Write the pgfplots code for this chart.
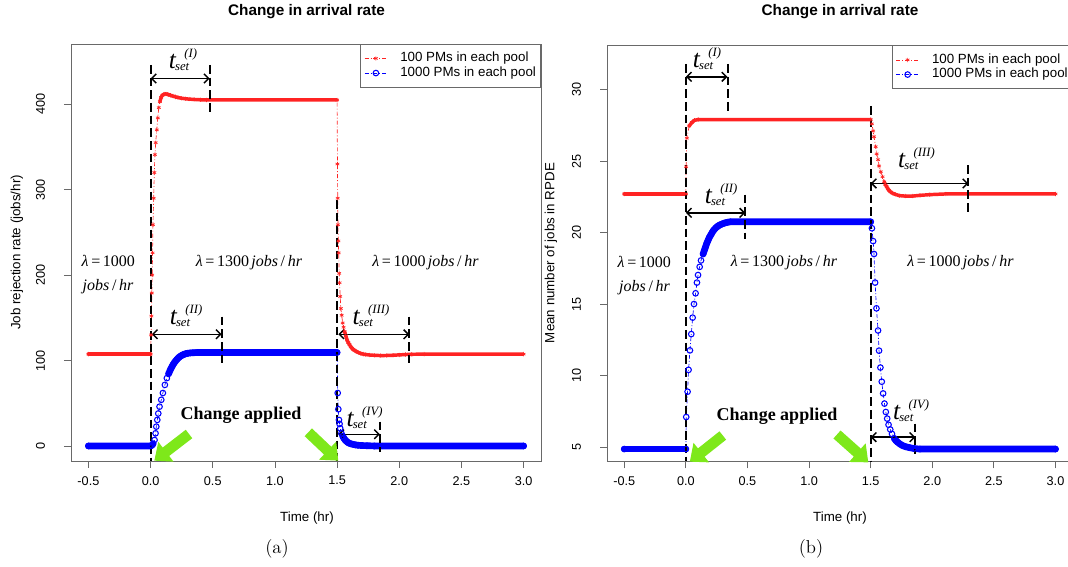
\documentclass[border=0pt]{standalone}
\usepackage{pgfplots}
\pgfplotsset{compat=1.18}
\usepackage{pgfplotstable}
\usepackage{fontspec}
\usetikzlibrary{arrows.meta}

\newfontfamily\arial{Liberation Sans}
\newfontfamily\tnr{Liberation Serif}

\definecolor{rred}{RGB}{255,35,35}
\definecolor{rblue}{RGB}{0,0,255}
\definecolor{lime}{RGB}{126,232,26}
\definecolor{frame}{RGB}{105,105,105}

% (a) job rejection rate, 100 PMs per pool
\pgfplotstableread{
x y
-0.5 107.5
0 107.5
0.004 130
0.007 152
0.010 179
0.013 200
0.016 226
0.019 259
0.025 290
0.030 320
0.035 341
0.041 355
0.050 370
0.058 384
0.066 396
0.075 403
0.085 408
0.095 410.5
0.105 411.5
0.115 412
0.125 412
0.135 411.7
0.145 411.2
0.16 410.5
0.18 409.5
0.20 408.6
0.22 407.9
0.25 407
0.28 406.4
0.31 406
0.35 405.6
0.40 405.2
0.45 405
1.5 405
1.503 330
1.505 290
1.507 259
1.510 240
1.513 226
1.517 202
1.520 191
1.525 175
1.530 161
1.537 153
1.545 144
1.552 139
1.56 134
1.57 129
1.58 124
1.59 121
1.60 118.5
1.61 116
1.62 114.5
1.63 113
1.64 112
1.65 111
1.67 109.5
1.69 108.3
1.71 107.5
1.73 107
1.76 106.5
1.80 106.1
1.85 105.8
1.90 105.9
1.95 106.2
2.00 106.6
2.05 107
2.10 107.3
2.20 107.5
3.00 107.5
}\ared

% (a) 1000 PMs per pool
\pgfplotstableread{
x y
-0.5 0
0 0
0.01 0.8
0.02 2.5
0.032 7
0.04 14.8
0.046 22.6
0.054 30.5
0.062 38
0.072 46
0.086 54
0.099 62
0.115 71.5
0.131 79.4
0.145 84.5
0.16 89.5
0.17 92.3
0.18 95.0
0.19 97.2
0.20 99.2
0.21 101.0
0.22 102.6
0.23 103.9
0.24 105.0
0.25 105.9
0.26 106.7
0.27 107.3
0.28 107.8
0.29 108.2
0.30 108.5
0.32 108.9
0.34 109.1
0.36 109.25
0.38 109.35
0.40 109.4
1.50 109.4
1.505 62
1.510 43
1.515 30.5
1.520 25.8
1.525 20.7
1.535 14.8
1.545 11.5
1.555 9.0
1.565 7.0
1.575 5.5
1.585 4.3
1.595 3.4
1.61 2.6
1.63 1.8
1.65 1.2
1.67 0.8
1.70 0.5
1.74 0.3
1.80 0
3.00 0
}\ablue

% (b) mean number of jobs in RPDE, 100 PMs per pool
\pgfplotstableread{
x y
-0.5 22.7
0 22.7
0.002 24.6
0.008 26.6
0.027 27.45
0.049 27.7
0.07 27.85
0.10 27.9
1.5 27.9
1.51 27.6
1.52 27.1
1.527 26.7
1.541 26.0
1.549 25.5
1.56 25.1
1.568 24.65
1.582 24.25
1.596 23.9
1.61 23.55
1.62 23.35
1.63 23.2
1.64 23.05
1.65 22.95
1.66 22.85
1.678 22.75
1.70 22.67
1.733 22.58
1.78 22.55
1.842 22.55
1.90 22.6
1.979 22.65
2.11 22.7
3.0 22.7
}\bred

% (b) 1000 PMs per pool
\pgfplotstableread{
x y
-0.5 4.86
0 4.86
0.003 7.1
0.014 8.87
0.022 10.4
0.033 11.76
0.044 12.9
0.055 14.05
0.066 15.0
0.079 15.75
0.09 16.5
0.099 17.03
0.112 17.6
0.123 18.05
0.14 18.5
0.15 18.75
0.16 19.0
0.17 19.25
0.18 19.45
0.19 19.65
0.20 19.8
0.21 19.95
0.22 20.1
0.23 20.2
0.24 20.3
0.25 20.38
0.26 20.45
0.27 20.5
0.28 20.55
0.30 20.62
0.32 20.68
0.34 20.72
0.36 20.75
1.5 20.75
1.51 20.3
1.52 19.4
1.527 18.5
1.536 16.5
1.547 14.7
1.560 13.15
1.568 11.74
1.579 10.56
1.590 9.57
1.601 8.75
1.612 8.04
1.623 7.45
1.634 6.99
1.645 6.56
1.659 6.23
1.673 5.92
1.692 5.6
1.705 5.45
1.719 5.34
1.740 5.2
1.760 5.1
1.785 5.02
1.815 4.96
1.85 4.9
1.90 4.86
3.0 4.86
}\bblue

\newcommand\tset[1]{{\tnr\itshape\fontsize{19}{19}\selectfont t\kern-0.6pt\rlap{\raisebox{-1.7pt}{\fontsize{9.5}{9.5}\selectfont set}}\kern7pt\raisebox{8pt}{\fontsize{9.5}{9.5}\selectfont (#1)}}}
\newcommand\rate[1]{{\tnr\fontsize{12}{14}\selectfont\textit{λ}\,=\,#1}}
\newcommand\jh{{\tnr\fontsize{12}{14}\selectfont\textit{jobs}\,/\,\textit{hr}}}

\pgfplotsset{
  rplot/.style={
    scale only axis, anchor=south west,
    xmin=-0.64, xmax=3.14,
    xtick={-0.5,0,0.5,1,1.5,2,2.5,3},
    xticklabels={-0.5,0.0,0.5,1.0,1.5,2.0,2.5,3.0},
    tick pos=left, tick align=outside, major tick length=5.25pt,
    axis line style={frame, line width=0.6pt},
    tick style={frame, line width=0.6pt},
    ticklabel style={font=\arial\fontsize{9.5}{11}\selectfont},
    xticklabel style={anchor=north, inner sep=0pt, yshift=-6pt},
    yticklabel style={xshift=-14pt, rotate=90, anchor=south, inner sep=0pt},
    legend style={at={(1,1)}, anchor=north east, draw=frame, line width=0.6pt,
      fill=white, font=\arial\fontsize{10}{12}\selectfont,
      inner xsep=3pt, inner ysep=5pt, legend cell align=left,
      nodes={inner sep=0.5pt, text height=7.5pt, text depth=2.5pt},
      /tikz/every odd column/.append style={column sep=9pt}},
  },
  band/.style={line width=#1, line cap=round, line join=round, forget plot},
  ddash/.style={dash pattern=on 3pt off 1.5pt on 0.7pt off 1.5pt, line width=0.5pt},
  redpts/.style={rred, ddash, mark=asterisk, mark size=1.6pt, mark options={solid, line width=0.5pt}},
  bluepts/.style={rblue, ddash, mark=o, mark size=2.1pt, mark options={solid, line width=0.8pt}},
}
\tikzset{
  vdash/.style={black, line width=1.5pt, dash pattern=on 6.5pt off 3pt},
  dim/.style={black, line width=1.1pt, {Straight Barb[length=3.5pt,width=7pt]}-{Straight Barb[length=3.5pt,width=7pt]}},
  garrow/.style={lime, line width=8pt, -{Triangle[length=11pt,width=18pt]}},
}

\begin{document}
\begin{tikzpicture}
\useasboundingbox (0,0) rectangle (801pt,425.25pt);

\begin{axis}[rplot, at={(53.25pt,79.5pt)}, width=352.5pt, height=312.75pt,
  ymin=-17.6, ymax=470.5, ytick={0,100,200,300,400}, yticklabels={0,100,200,300,400}]
\addlegendimage{redpts}\addlegendentry{100 PMs in each pool}
\addlegendimage{bluepts}\addlegendentry{1000 PMs in each pool}
\addplot[rred, band=2.6pt, restrict x to domain=-0.5:0] table {\ared};
\addplot[rred, band=2.6pt, restrict x to domain=0.075:1.5] table {\ared};
\addplot[rred, band=2.6pt, restrict x to domain=1.56:3] table {\ared};
\addplot[redpts, forget plot] table {\ared};
\addplot[rblue, band=5pt, restrict x to domain=-0.5:0.02] table {\ablue};
\addplot[rblue, band=5pt, restrict x to domain=0.145:1.5] table {\ablue};
\addplot[rblue, band=5pt, restrict x to domain=1.545:3] table {\ablue};
\addplot[bluepts, forget plot] table {\ablue};
\draw[vdash] (axis cs:0,446) -- (axis cs:0,-17.6);
\draw[vdash] (axis cs:0.475,446) -- (axis cs:0.475,387.4);
\draw[dim] (axis cs:0,430.1) -- (axis cs:0.475,430.1);
\draw[vdash] (axis cs:0.572,151.3) -- (axis cs:0.572,96.8);
\draw[dim] (axis cs:0.01,130.7) -- (axis cs:0.572,130.7);
\draw[vdash] (axis cs:1.5,288) -- (axis cs:1.5,-17.6);
\draw[vdash] (axis cs:2.081,151.3) -- (axis cs:2.081,94.8);
\draw[dim] (axis cs:1.51,130.7) -- (axis cs:2.081,130.7);
\draw[vdash] (axis cs:1.845,28.4) -- (axis cs:1.845,-6.7);
\draw[dim] (axis cs:1.51,13.7) -- (axis cs:1.845,13.7);
\end{axis}

\begin{axis}[rplot, at={(455.25pt,79.125pt)}, width=349.3pt, height=312pt,
  ymin=3.99, ymax=33.08, ytick={5,10,15,20,25,30}, yticklabels={5,10,15,20,25,30}]
\addlegendimage{redpts}\addlegendentry{100 PMs in each pool}
\addlegendimage{bluepts}\addlegendentry{1000 PMs in each pool}
\addplot[rred, band=2.6pt, restrict x to domain=-0.5:0] table {\bred};
\addplot[rred, band=2.6pt, restrict x to domain=0.027:1.5] table {\bred};
\addplot[rred, band=2.6pt, restrict x to domain=1.61:3] table {\bred};
\addplot[redpts, forget plot] table {\bred};
\addplot[rblue, band=5pt, restrict x to domain=-0.5:0] table {\bblue};
\addplot[rblue, band=5pt, restrict x to domain=0.14:1.5] table {\bblue};
\addplot[rblue, band=5pt, restrict x to domain=1.69:3] table {\bblue};
\addplot[bluepts, forget plot] table {\bblue};
\draw[vdash] (axis cs:0,31.79) -- (axis cs:0,3.99);
\draw[vdash] (axis cs:0.338,31.79) -- (axis cs:0.338,28.26);
\draw[dim] (axis cs:0,30.89) -- (axis cs:0.338,30.89);
\draw[vdash] (axis cs:0.483,22.65) -- (axis cs:0.483,19.58);
\draw[dim] (axis cs:0,21.38) -- (axis cs:0.483,21.38);
\draw[vdash] (axis cs:1.5,28.85) -- (axis cs:1.5,3.99);
\draw[vdash] (axis cs:2.293,24.72) -- (axis cs:2.293,21.31);
\draw[dim] (axis cs:1.5,23.43) -- (axis cs:2.293,23.43);
\draw[vdash] (axis cs:1.863,6.63) -- (axis cs:1.863,4.51);
\draw[dim] (axis cs:1.5,5.69) -- (axis cs:1.863,5.69);
\end{axis}

% texts and arrows, placed in pixel units of the reference
\begin{scope}[shift={(0pt,425.25pt)}, x=0.75pt, y=-0.75pt]
\node[font=\arial\bfseries\fontsize{11.5}{13}\selectfont] at (306.5,12) {Change in arrival rate};
\node[font=\arial\bfseries\fontsize{11.5}{13}\selectfont] at (840,12) {Change in arrival rate};
\node[font=\arial\fontsize{10}{12}\selectfont] at (307,518) {Time (hr)};
\node[font=\arial\fontsize{10}{12}\selectfont] at (840,518) {Time (hr)};
\node[rotate=90, font=\arial\fontsize{10}{12}\selectfont] at (17,252.5) {Job rejection rate (jobs/hr)};
\node[rotate=90, font=\arial\fontsize{10}{12}\selectfont] at (551,253) {Mean number of jobs in RPDE};
\node[font=\fontsize{14}{16}\selectfont] at (277,549) {(a)};
\node[font=\fontsize{14}{16}\selectfont] at (811,549) {(b)};

\node at (183,60) {\tset{I}};
\node at (186,316) {\tset{II}};
\node at (371,316) {\tset{III}};
\node at (364.5,417.5) {\tset{IV}};
\node at (707,59) {\tset{I}};
\node at (721,194.5) {\tset{II}};
\node at (916.5,158.6) {\tset{III}};
\node at (911,411) {\tset{IV}};

\node[anchor=west] at (77,261) {\rate{1000}};
\node[anchor=west] at (78,287) {\jh};
\node at (249,262.5) {\rate{1300}\,\jh};
\node at (425.5,262.5) {\rate{1000}\,\jh};
\node[anchor=west] at (613,262) {\rate{1000}};
\node[anchor=west] at (614.5,287.6) {\jh};
\node at (784,262.5) {\rate{1300}\,\jh};
\node at (960.5,262.5) {\rate{1000}\,\jh};

\node[font=\tnr\bfseries\fontsize{13.5}{16}\selectfont] at (241,415) {Change applied};
\node[font=\tnr\bfseries\fontsize{13.5}{16}\selectfont] at (777,416.4) {Change applied};

\draw[garrow] (189,434) -- (154.3,460.7);
\draw[garrow] (308.3,432.3) -- (338.3,460.7);
\draw[garrow] (722.8,435.5) -- (689.8,461.7);
\draw[garrow] (837,434.5) -- (868.3,462.4);
\end{scope}
\end{tikzpicture}
\end{document}
